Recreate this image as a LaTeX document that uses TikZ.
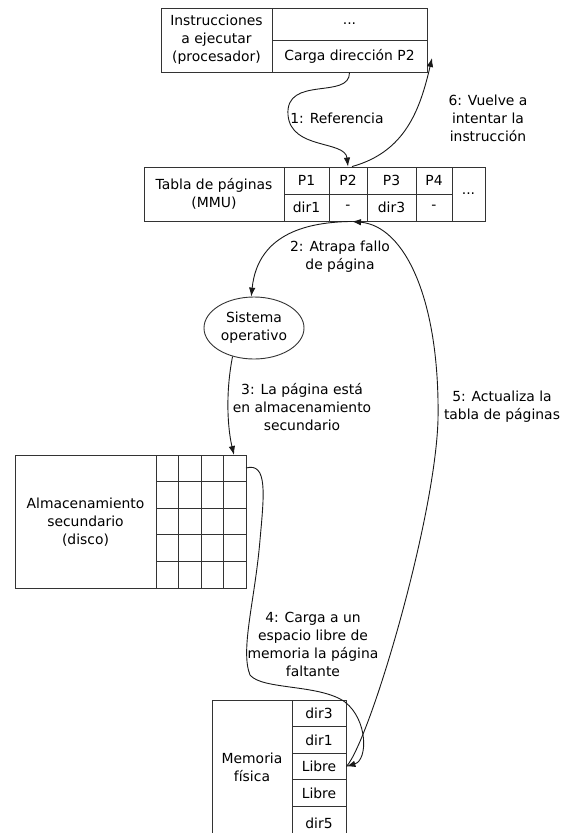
\documentclass[tikz,border=0pt]{standalone}
\usepackage{fontspec}
\setmainfont{DejaVu Sans}
\usetikzlibrary{shapes.geometric,arrows.meta,calc}
\begin{document}
\begin{tikzpicture}[x=1pt,y=-1pt,
  every node/.style={font=\fontsize{13.9}{18}\selectfont, text=black},
  box/.style={draw=black!80, line width=0.9pt, rectangle, inner sep=0pt, align=center},
  lbl/.style={align=center, inner sep=0pt},
  conn/.style={draw=black!90, line width=0.9pt, -{Latex[length=9pt,width=6.5pt]}},
  gridline/.style={draw=black!80, line width=0.9pt},
]
\useasboundingbox (0,0) rectangle (560,833);

% top box
\node[box, minimum width=111, minimum height=64] (instr) at (216.5,40) {Instrucciones\\a ejecutar\\(procesador)};
\node[box, minimum width=155, minimum height=32] (dotsA) at (349.5,24) {...};
\node[box, minimum width=155, minimum height=32] (carga) at (349.5,56) {Carga dirección P2};

% page table
\node[box, minimum width=140, minimum height=54] (tabla) at (214,194) {Tabla de páginas\\(MMU)};
\node[box, minimum width=45, minimum height=27] (p1) at (306.5,180.5) {P1};
\node[box, minimum width=45, minimum height=27] (d1) at (306.5,207.5) {dir1};
\node[box, minimum width=38, minimum height=27] (p2) at (348,180.5) {P2};
\node[box, minimum width=38, minimum height=27] (d2) at (348,207.5) {-};
\node[box, minimum width=49, minimum height=27] (p3) at (391.5,180.5) {P3};
\node[box, minimum width=49, minimum height=27] (d3) at (391.5,207.5) {dir3};
\node[box, minimum width=36, minimum height=27] (p4) at (434,180.5) {P4};
\node[box, minimum width=36, minimum height=27] (d4) at (434,207.5) {-};
\node[box, minimum width=33, minimum height=54] (dotsB) at (468.5,194) {...};

% operating system
\node[draw=black!80, line width=0.9pt, ellipse, minimum width=100, minimum height=62, inner sep=0pt, align=center] (so) at (254,328) {Sistema\\operativo};

% disk
\node[box, minimum width=231, minimum height=133] (disk) at (130.5,521.5) {};
\node[lbl] (disklbl) at (85.5,522) {Almacenamiento\\secundario\\(disco)};
\foreach \x in {156,178.5,201,223.5}
  \draw[gridline] (\x,455) -- (\x,588);
\foreach \y in {481.6,508.2,534.8,561.4}
  \draw[gridline] (156,\y) -- (246,\y);
\coordinate (diskin) at (234,455);
\coordinate (diskout) at (246,468);

% physical memory
\node[box, minimum width=134, minimum height=140] (mem) at (279,770) {};
\node[lbl] (memlbl) at (252,767) {Memoria\\física};
\node[box, minimum width=54, minimum height=26.6] (m1) at (319,713.3) {dir3};
\node[box, minimum width=54, minimum height=26.6] (m2) at (319,739.9) {dir1};
\node[box, minimum width=54, minimum height=26.6] (libre) at (319,766.5) {Libre};
\node[box, minimum width=54, minimum height=26.6] (m4) at (319,793.1) {Libre};
\node[box, minimum width=54, minimum height=33.6] (m5) at (319,823.2) {dir5};

% connectors
\coordinate (t6) at (432,58);
\coordinate (p2top) at ($(p2.north)+(4,0)$);
\coordinate (p2bot) at ($(d2.south)+(4,0)$);
\draw[conn] (carga.south) .. controls (350,100) and (285,75) .. (288,115) .. controls (291,150) and (345,140) .. (p2.north);
\draw[conn] (p2top) .. controls (405,152) and (420,110) .. (t6);
\draw[conn] (p2bot) .. controls (310,222) and (258,232) .. (so.95);
\draw[conn] (so.-127) .. controls (225,395) and (228,430) .. (diskin);
\draw[conn] (diskout) .. controls (268,462) and (264,495) .. (260,540) .. controls (255,600) and (240,650) .. (250,675) .. controls (262,690) and (320,684) .. (345,702) .. controls (368,720) and (368,760) .. (libre.east);
\draw[conn] (libre.east) .. controls (370,740) and (435,520) .. (438,420) .. controls (440,300) and (405,226) .. (p2bot);

% labels
\node[lbl] (l1) at (337,118) {1: Referencia};
\node[lbl] (l6) at (488,118) {6: Vuelve a\\intentar la\\instrucción};
\node[lbl] (l2) at (340,257) {2: Atrapa fallo\\de página};
\node[lbl] (l3) at (302,407) {3: La página está\\en almacenamiento\\secundario};
\node[lbl] (l5) at (502,407) {5: Actualiza la\\tabla de páginas};
\node[lbl] (l4) at (313,644) {4: Carga a un\\espacio libre de\\memoria la página\\faltante};
\end{tikzpicture}
\end{document}
